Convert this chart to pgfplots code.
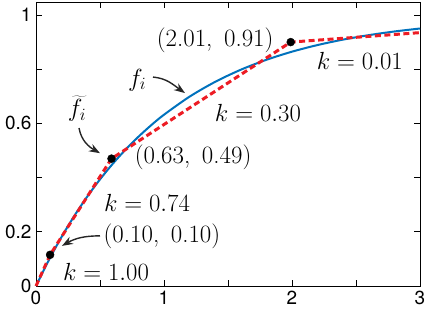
\documentclass[border=0pt]{standalone}
\usepackage{pgfplots}
\pgfplotsset{compat=1.18}
\usetikzlibrary{arrows.meta}
\usepackage{fontspec}
\newfontfamily\heros{TeX Gyre Heros}
\definecolor{mblue}{RGB}{0,114,189}
\definecolor{mred}{RGB}{237,28,36}
\begin{document}
\begin{tikzpicture}
\begin{axis}[
  name=ax,
  scale only axis,
  width=384bp, height=284bp,
  xmin=0, xmax=3, ymin=0, ymax=1.048,
  xtick={0,0.5,...,3}, xticklabels={0,,1,,2,,3},
  ytick={0,0.2,0.4,0.6,0.8,1}, yticklabels={0,0.2,,0.6,,1},
  ticklabel style={font=\heros\fontsize{19}{21}\selectfont},
  tick align=inside,
  major tick length=6bp,
  axis line style={line width=0.9bp},
  every tick/.style={black, line width=0.8bp},
  xticklabel style={yshift=-2bp},
  yticklabel style={xshift=-1bp},
  clip=false,
]
\addplot[mblue, line width=2bp, no marks, smooth] coordinates {
(0,0) (0.1,0.0952) (0.2,0.1813) (0.3,0.2592) (0.4,0.3297) (0.5,0.3935)
(0.6,0.4512) (0.7,0.5034) (0.8,0.5507) (0.9,0.5934) (1.0,0.6321)
(1.2,0.6988) (1.4,0.7534) (1.6,0.7981) (1.8,0.8347) (2.0,0.8647)
(2.2,0.8892) (2.4,0.9093) (2.6,0.9257) (2.8,0.9392) (3.0,0.9502)};
\addplot[mred, line width=3bp, no marks, dash pattern=on 6bp off 3.5bp] coordinates {
(0,0) (0.11,0.115) (0.59,0.47) (1.99,0.90) (3,0.935)};
\addplot[only marks, mark=*, mark size=4bp, black] coordinates {
(0.11,0.115) (0.59,0.47) (1.99,0.90)};
\begin{scope}[font=\fontsize{25}{27}\selectfont]
\node at (axis cs:1.40,0.908) {(2.01,\, 0.91)};
\node at (axis cs:2.53,0.83) {$k = 0.01$};
\node at (axis cs:0.79,0.76) {$f_i$};
\node at (axis cs:1.734,0.638) {$k = 0.30$};
\node at (axis cs:0.32,0.655) {$\widetilde{f}_i$};
\node at (axis cs:1.227,0.476) {(0.63,\, 0.49)};
\node at (axis cs:0.867,0.306) {$k = 0.74$};
\node at (axis cs:0.984,0.185) {(0.10,\, 0.10)};
\node at (axis cs:0.547,0.052) {$k = 1.00$};
\end{scope}
\begin{scope}[line width=1.4bp, black!85, -{Stealth[length=11bp,width=8bp]}]
\draw (axis cs:0.914,0.771) to[out=-5,in=145] (axis cs:1.164,0.712);
\draw (axis cs:0.336,0.583) to[out=-80,in=150] (axis cs:0.5,0.49);
\draw (axis cs:0.5,0.185) to[out=180,in=30] (axis cs:0.203,0.148);
\end{scope}
\end{axis}
\pgfresetboundingbox
\path ([xshift=-36bp,yshift=-28bp]ax.south west) rectangle ([xshift=10bp,yshift=2bp]ax.north east);
\end{tikzpicture}
\end{document}
